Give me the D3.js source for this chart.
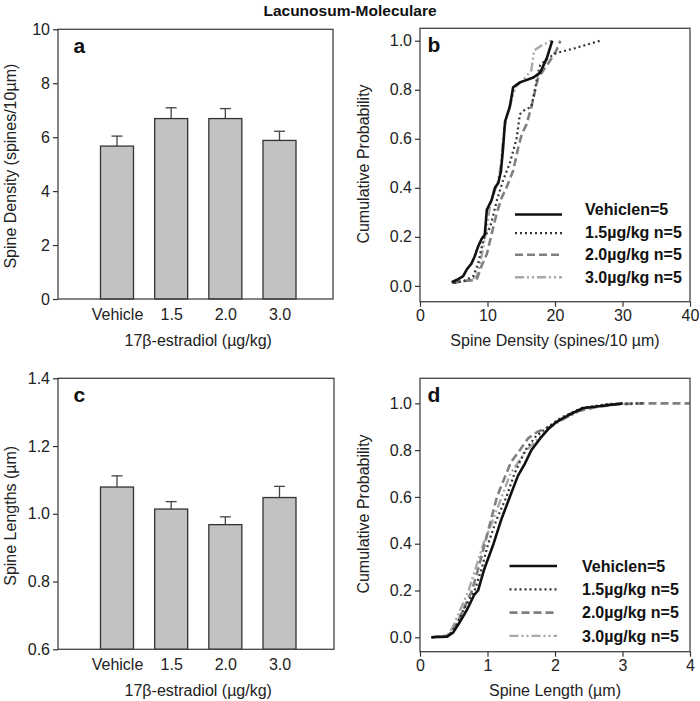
<!DOCTYPE html>
<html>
<head>
<meta charset="utf-8">
<script src="https://cdn.jsdelivr.net/npm/d3@7"></script>
<style>
  html, body { margin: 0; padding: 0; background: #fff; }
  svg { display: block; font-family: "Liberation Sans", Arial, Helvetica, sans-serif; }
</style>
</head>
<body>
<svg id="chart" width="700" height="701"></svg>
<script>
// ---------- data ----------
const title = "Lacunosum-Moleculare";
const categories = ["Vehicle", "1.5", "2.0", "3.0"];
const densityMean = [5.67, 6.69, 6.69, 5.88];
const densityErr  = [0.37, 0.40, 0.37, 0.34];
const lengthMean  = [1.079, 1.014, 0.968, 1.048];
const lengthErr   = [0.033, 0.022, 0.023, 0.033];

const densityTicks = [0, 2, 4, 6, 8, 10];
const lengthTicks  = [0.6, 0.8, 1.0, 1.2, 1.4];
const probTicks    = [0, 0.2, 0.4, 0.6, 0.8, 1.0];
const densityXTicks = [0, 10, 20, 30, 40];
const lengthXTicks  = [0, 1, 2, 3, 4];

const seriesNames = ["Vehiclen=5", "1.5\u00b5g/kg n=5", "2.0\u00b5g/kg n=5", "3.0\u00b5g/kg n=5"];

// cumulative distributions, panel b (spine density)
const cdfDensityVehicle = [[4.7,0.015],[5.5,0.025],[6.4,0.04],[7.0,0.07],[7.6,0.09],[8.1,0.12],[8.6,0.16],[9.1,0.19],[9.6,0.21],[9.9,0.31],[10.6,0.35],[11.1,0.40],[11.6,0.42],[12.0,0.47],[12.3,0.56],[12.6,0.67],[13.3,0.73],[13.8,0.81],[14.8,0.83],[16.8,0.85],[17.8,0.87],[18.8,0.93],[19.6,1.0]];
const cdfDensity15 = [[5.0,0.012],[6.5,0.02],[7.9,0.04],[8.6,0.09],[9.4,0.19],[10.4,0.24],[11.4,0.35],[12.3,0.43],[13.3,0.50],[14.3,0.60],[14.8,0.70],[15.6,0.72],[16.5,0.73],[17.1,0.81],[17.4,0.86],[17.8,0.90],[19.0,0.93],[20.2,0.95],[23.0,0.97],[26.7,1.0]];
const cdfDensity20 = [[4.9,0.012],[6.5,0.02],[8.4,0.025],[9.1,0.08],[9.9,0.13],[10.6,0.21],[11.4,0.30],[12.1,0.36],[12.8,0.40],[13.8,0.47],[14.6,0.57],[15.1,0.62],[15.8,0.66],[16.5,0.73],[17.0,0.79],[17.5,0.85],[18.3,0.88],[19.3,0.92],[20.2,0.96],[20.8,1.0]];
const cdfDensity30 = [[4.7,0.012],[6.0,0.018],[7.4,0.022],[8.4,0.04],[8.9,0.09],[9.4,0.16],[9.9,0.24],[10.4,0.33],[11.0,0.38],[11.6,0.43],[12.0,0.50],[12.3,0.60],[12.8,0.69],[13.6,0.76],[14.1,0.81],[15.3,0.84],[16.5,0.88],[16.9,0.96],[18.0,0.98],[19.5,1.0]];

// cumulative distributions, panel d (spine length)
const cdfLengthVehicle = [[0.17,0],[0.40,0.003],[0.49,0.02],[0.60,0.07],[0.70,0.12],[0.80,0.18],[0.86,0.20],[0.95,0.29],[1.09,0.40],[1.20,0.50],[1.33,0.60],[1.45,0.69],[1.55,0.74],[1.65,0.80],[1.78,0.85],[1.90,0.89],[2.02,0.92],[2.20,0.95],[2.42,0.98],[2.72,0.99],[3.0,1.0]];
const cdfLength15 = [[0.17,0],[0.42,0.005],[0.52,0.04],[0.65,0.12],[0.81,0.20],[0.92,0.30],[1.01,0.40],[1.13,0.50],[1.28,0.60],[1.40,0.70],[1.56,0.80],[1.72,0.86],[1.90,0.90],[2.10,0.94],[2.40,0.98],[2.77,0.997],[3.31,1.0]];
const cdfLength20 = [[0.17,0],[0.42,0.008],[0.55,0.06],[0.66,0.13],[0.77,0.20],[0.87,0.30],[0.96,0.40],[1.05,0.50],[1.14,0.60],[1.25,0.68],[1.35,0.75],[1.48,0.80],[1.60,0.85],[1.75,0.88],[1.93,0.90],[2.07,0.93],[2.32,0.965],[2.62,0.985],[2.91,0.995],[3.3,1.0],[4.0,1.0]];
const cdfLength30 = [[0.17,0],[0.40,0.006],[0.48,0.04],[0.60,0.12],[0.72,0.20],[0.83,0.30],[0.94,0.40],[1.08,0.50],[1.21,0.60],[1.34,0.70],[1.58,0.80],[1.75,0.85],[1.90,0.89],[2.05,0.92],[2.25,0.95],[2.47,0.98],[2.81,0.996],[3.26,1.0]];

// ---------- styles ----------
const lineStyles = [
  { color: "#111", width: 2.6, dash: null },
  { color: "#333", width: 2.2, dash: "2,3" },
  { color: "#808080", width: 2.6, dash: "8,4" },
  { color: "#a8a8a8", width: 2.4, dash: "9,3,2,3,2,3" }
];
const FONT = 16;

const svg = d3.select("#chart");
svg.append("rect").attr("width", 700).attr("height", 701).attr("fill", "#fff");

svg.append("text")
  .attr("x", 350).attr("y", 15.5)
  .attr("text-anchor", "middle")
  .attr("font-weight", "bold").attr("font-size", 15.5)
  .attr("fill", "#111")
  .text(title);

function styleAxis(g) {
  g.select(".domain").remove();
  g.selectAll(".tick line").attr("stroke", "#333").attr("stroke-width", 1.2);
  g.selectAll(".tick text").attr("font-size", FONT).attr("fill", "#222")
    .attr("font-family", "Liberation Sans, Arial, sans-serif");
}

function frame(box) {
  svg.append("rect")
    .attr("x", box.l).attr("y", box.t)
    .attr("width", box.r - box.l).attr("height", box.b - box.t)
    .attr("fill", "none").attr("stroke", "#444").attr("stroke-width", 1.3);
}

function panelLetter(txt, x, y) {
  svg.append("text").attr("x", x).attr("y", y)
    .attr("font-weight", "bold").attr("font-size", 21).attr("fill", "#111")
    .text(txt);
}

function yLabel(txt, x, y) {
  svg.append("text")
    .attr("transform", `translate(${x},${y}) rotate(-90)`)
    .attr("text-anchor", "middle").attr("dy", "0.35em")
    .attr("font-size", FONT).attr("fill", "#222")
    .text(txt);
}

function xLabel(txt, x, y) {
  svg.append("text")
    .attr("x", x).attr("y", y)
    .attr("text-anchor", "middle").attr("dy", "0.35em")
    .attr("font-size", FONT).attr("fill", "#222")
    .text(txt);
}

function barPanel(cfg) {
  const box = cfg.box;
  const y = d3.scaleLinear().domain(cfg.yDomain).range([box.b, box.t]);
  const x = d3.scalePoint().domain(categories).range([117, 279.5]);
  const bw = 33;

  const g = svg.append("g");
  g.selectAll("rect.bar").data(categories).join("rect")
    .attr("class", "bar")
    .attr("x", d => x(d) - bw / 2)
    .attr("width", bw)
    .attr("y", (d, i) => y(cfg.mean[i]))
    .attr("height", (d, i) => box.b - y(cfg.mean[i]))
    .attr("fill", "#c2c2c2").attr("stroke", "#333").attr("stroke-width", 1.3);
  g.selectAll("line.err").data(categories).join("line")
    .attr("x1", d => x(d)).attr("x2", d => x(d))
    .attr("y1", (d, i) => y(cfg.mean[i]))
    .attr("y2", (d, i) => y(cfg.mean[i] + cfg.err[i]))
    .attr("stroke", "#444").attr("stroke-width", 1.3);
  g.selectAll("line.cap").data(categories).join("line")
    .attr("x1", d => x(d) - 5.5).attr("x2", d => x(d) + 5.5)
    .attr("y1", (d, i) => y(cfg.mean[i] + cfg.err[i]))
    .attr("y2", (d, i) => y(cfg.mean[i] + cfg.err[i]))
    .attr("stroke", "#444").attr("stroke-width", 1.3);

  frame(box);

  svg.append("g").attr("transform", `translate(${box.l},0)`)
    .call(d3.axisLeft(y).tickValues(cfg.yTicks).tickFormat(cfg.yFormat).tickSize(5).tickPadding(3))
    .call(styleAxis);
  svg.append("g").attr("transform", `translate(0,${box.b})`)
    .call(d3.axisBottom(x).tickSize(0).tickPadding(9.5))
    .call(styleAxis);

  panelLetter(cfg.letter, 73.5, box.t + 24);
  yLabel(cfg.yLabel, 10, (box.t + box.b) / 2 + 2);
  xLabel("17\u03b2-estradiol (\u00b5g/kg)", (x.range()[0] + x.range()[1]) / 2, box.b + 41);
}

function cdfPanel(cfg) {
  const box = cfg.box;
  const x = d3.scaleLinear().domain(cfg.xDomain).range([box.l, box.r]);
  const y = d3.scaleLinear().domain(cfg.yDomain).range([box.b, box.t]);
  const line = d3.line().x(d => x(d[0])).y(d => y(d[1]));

  const order = [3, 2, 1, 0];
  order.forEach(i => {
    const s = lineStyles[i];
    svg.append("path").datum(cfg.series[i])
      .attr("d", line)
      .attr("fill", "none")
      .attr("stroke", s.color).attr("stroke-width", s.width)
      .attr("stroke-dasharray", s.dash)
      .attr("stroke-linejoin", "round");
  });

  frame(box);

  svg.append("g").attr("transform", `translate(${box.l},0)`)
    .call(d3.axisLeft(y).tickValues(probTicks).tickFormat(d3.format(".1f")).tickSize(5).tickPadding(3))
    .call(styleAxis);
  svg.append("g").attr("transform", `translate(0,${box.b})`)
    .call(d3.axisBottom(x).tickValues(cfg.xTicks).tickFormat(d3.format("d")).tickSize(5).tickPadding(3))
    .call(styleAxis);

  panelLetter(cfg.letter, box.l + 7.5, box.t + 24);
  yLabel("Cumulative Probability", 363, (box.t + box.b) / 2 - 1);
  xLabel(cfg.xLabel, (box.l + box.r) / 2, box.b + 38.5);

  const lg = cfg.legend;
  seriesNames.forEach((name, i) => {
    const s = lineStyles[i];
    const yy = lg.y0 + i * lg.dy;
    svg.append("line")
      .attr("x1", lg.x1).attr("x2", lg.x2)
      .attr("y1", yy + lg.lineOff[i]).attr("y2", yy + lg.lineOff[i])
      .attr("stroke", s.color).attr("stroke-width", s.width)
      .attr("stroke-dasharray", s.dash);
    svg.append("text")
      .attr("x", lg.tx).attr("y", yy).attr("dy", "0.36em")
      .attr("font-weight", "bold").attr("font-size", 16).attr("fill", "#111")
      .text(name);
  });
}

barPanel({
  box: { l: 58, r: 333, t: 29.3, b: 299 },
  yDomain: [0, 10], yTicks: densityTicks, yFormat: d3.format("d"),
  mean: densityMean, err: densityErr, letter: "a",
  yLabel: "Spine Density (spines/10\u00b5m)"
});

barPanel({
  box: { l: 58, r: 334, t: 378.3, b: 649.3 },
  yDomain: [0.6, 1.4], yTicks: lengthTicks, yFormat: d3.format(".1f"),
  mean: lengthMean, err: lengthErr, letter: "c",
  yLabel: "Spine Lengths (\u00b5m)"
});

cdfPanel({
  box: { l: 420, r: 690, t: 28.3, b: 301.7 },
  xDomain: [0, 40], yDomain: [-0.0644, 1.0506], xTicks: densityXTicks,
  series: [cdfDensityVehicle, cdfDensity15, cdfDensity20, cdfDensity30],
  letter: "b", xLabel: "Spine Density (spines/10 \u00b5m)",
  legend: { x1: 515, x2: 562, tx: 585, y0: 209.5, dy: 22.6, lineOff: [5, 1, 0, 0] }
});

cdfPanel({
  box: { l: 420, r: 690, t: 378.3, b: 651.7 },
  xDomain: [0, 4], yDomain: [-0.0615, 1.107], xTicks: lengthXTicks,
  series: [cdfLengthVehicle, cdfLength15, cdfLength20, cdfLength30],
  letter: "d", xLabel: "Spine Length (\u00b5m)",
  legend: { x1: 509.5, x2: 557, tx: 582, y0: 566, dy: 23.3, lineOff: [0, 0, 0, 0] }
});
</script>
</body>
</html>
